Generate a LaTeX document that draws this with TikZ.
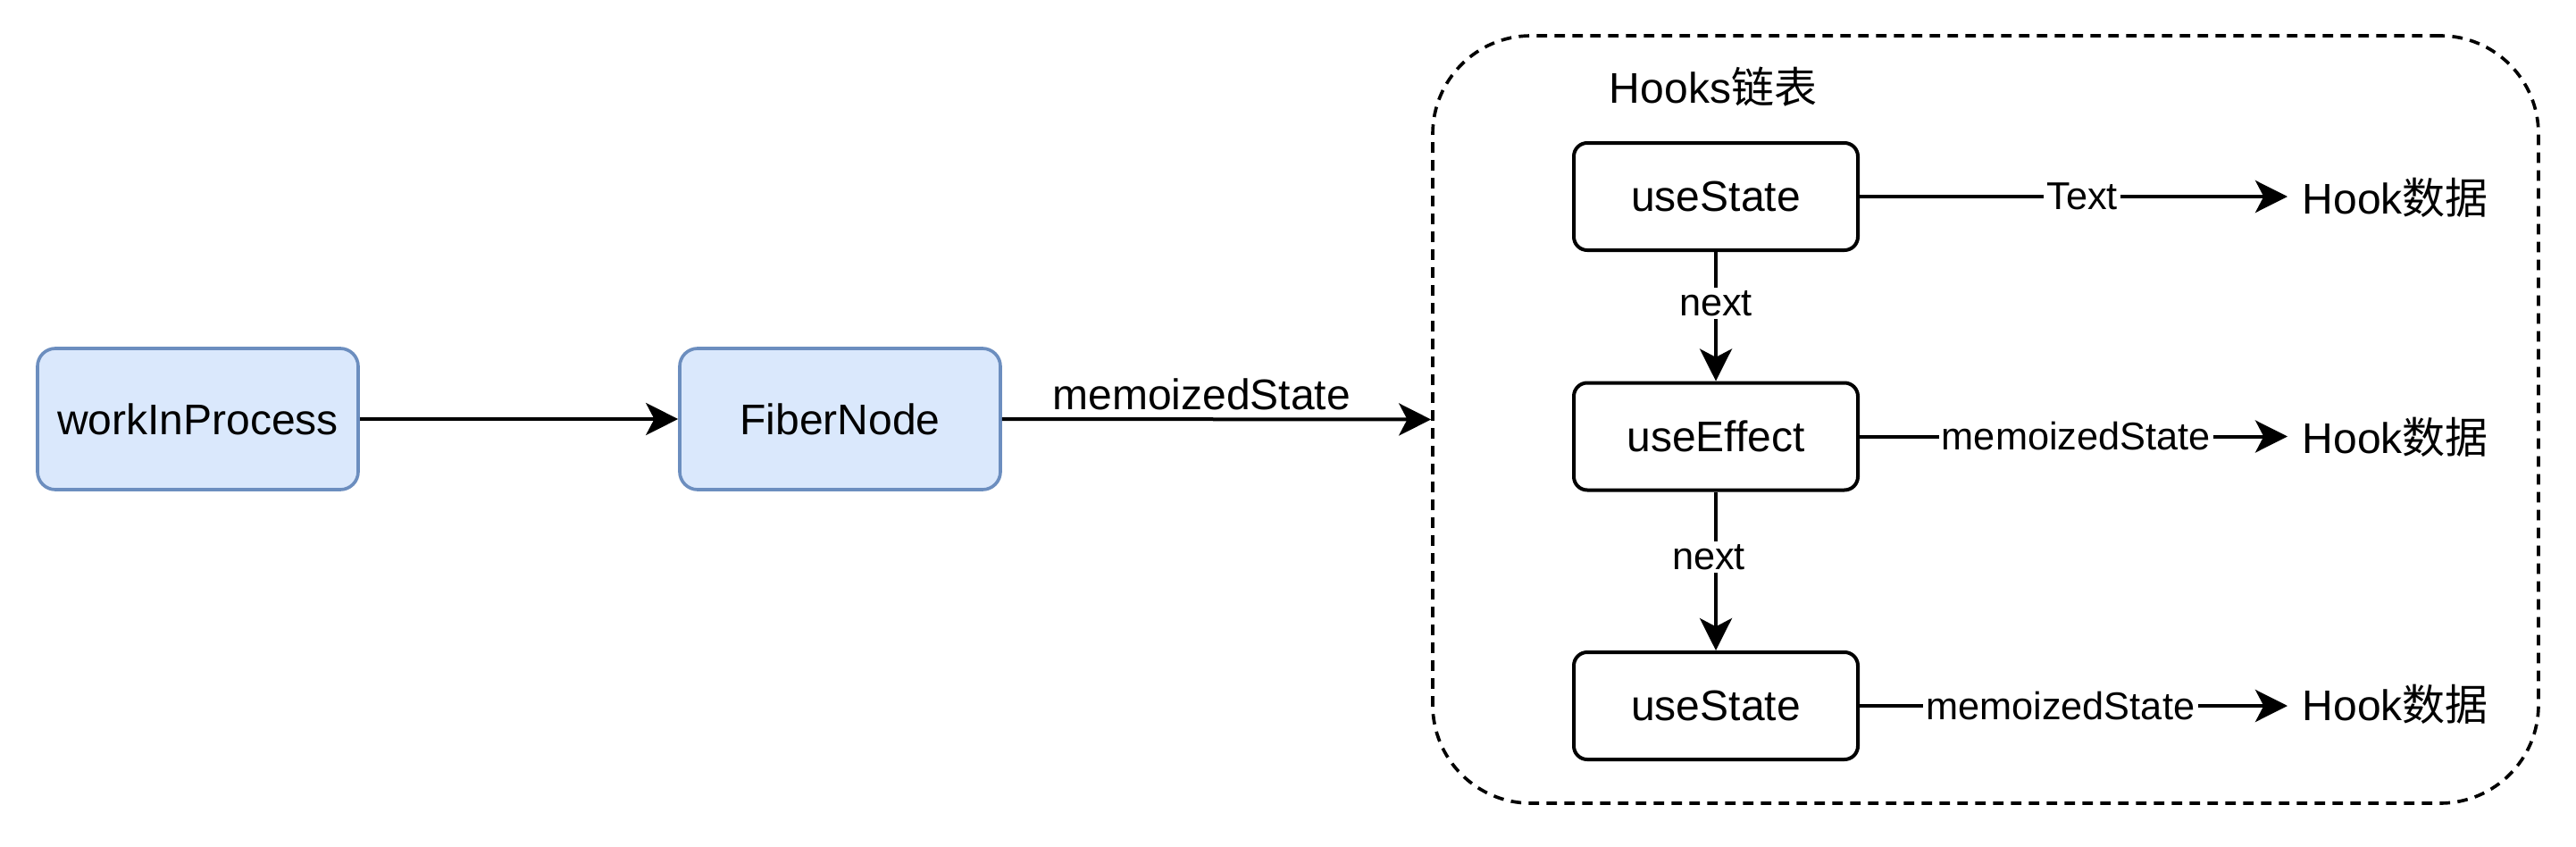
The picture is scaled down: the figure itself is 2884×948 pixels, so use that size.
\documentclass[tikz,border=0pt]{standalone}
\usepackage{fontspec}
\setmainfont{Liberation Sans}
\newfontfamily\cjk{Noto Sans CJK SC}
\usetikzlibrary{arrows.meta}
\tikzset{
  tip/.tip={Stealth[length=10.8pt,width=10.8pt,inset=2.8pt]},
  bluebox/.style={draw={rgb,255:red,108;green,142;blue,191}, fill={rgb,255:red,218;green,232;blue,252}, line width=1.1pt, rounded corners=6pt, minimum width=107.7pt, minimum height=47.4pt, font=\fontsize{14.4pt}{17pt}\selectfont},
  hookbox/.style={draw=black, line width=1.2pt, rounded corners=4.5pt, minimum width=95.4pt, minimum height=36pt, font=\fontsize{14.4pt}{17pt}\selectfont},
  plain/.style={font=\fontsize{14.4pt}{17pt}\selectfont, inner sep=0pt},
  datanode/.style={font=\fontsize{14.4pt}{17pt}\selectfont, inner ysep=0pt, inner xsep=4.8pt, anchor=west},
  elabel/.style={fill=white, inner sep=1pt, font=\fontsize{13pt}{15pt}\selectfont},
  conn/.style={line width=1.2pt, -tip},
  container/.style={draw=black, line width=1.1pt, dash pattern=on 3.5pt off 2.5pt, rounded corners=33pt, minimum width=371.4pt, minimum height=257.7pt},
}
\begin{document}
\begin{tikzpicture}[x=0.3pt,y=-0.3pt]
\useasboundingbox (0,0) rectangle (2884,948);
\node[bluebox] (wip) at (221.5,469) {workInProcess};
\node[bluebox] (fiber) at (940.5,469) {FiberNode};
\node[container] (hooks) at (2223,469.5) {};
\node[plain] (title) at (1918,97) {Hooks{\cjk 链表}};
\node[hookbox] (us1) at (1921,220) {useState};
\node[hookbox] (ue) at (1921,488.5) {useEffect};
\node[hookbox] (us2) at (1921,790) {useState};
\node[datanode] (d1) at (2561,221) {Hook{\cjk 数据}};
\node[datanode] (d2) at (2561,489) {Hook{\cjk 数据}};
\node[datanode] (d3) at (2561,788) {Hook{\cjk 数据}};
\draw[conn] (wip) -- (fiber);
\draw[conn] (fiber.east) -- node[pos=0.465, yshift=8.4pt, plain] {memoizedState} (hooks.west);
\draw[conn] (us1.east) -- node[pos=0.52, elabel] {Text} (us1.east -| d1.west);
\draw[conn] (ue.east) -- node[pos=0.506, elabel] {memoizedState} (ue.east -| d2.west);
\draw[conn] (us2.east) -- node[pos=0.469, elabel] {memoizedState} (us2.east -| d3.west);
\draw[conn] (us1) -- node[pos=0.4, elabel] {next} (ue);
\draw[conn] (ue) -- node[pos=0.41, elabel, xshift=-2.4pt] {next} (us2);
\end{tikzpicture}
\end{document}
